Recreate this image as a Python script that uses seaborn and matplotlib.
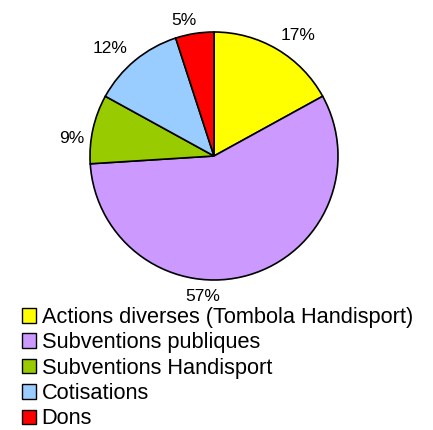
import matplotlib
matplotlib.use("Agg")
import matplotlib.pyplot as plt
import seaborn as sns

# data
categories = ['Actions diverses (Tombola Handisport)',
              'Subventions publiques',
              'Subventions Handisport',
              'Cotisations',
              'Dons']
shares = [17, 57, 9, 12, 5]
colors = ['#FFFF00', '#CC99FF', '#99CC00', '#99CCFF', '#FF0000']

# where excel dropped the percentage labels (pie radius = 1)
label_pos = [(0.68, 0.97), (-0.09, -1.13), (-1.15, 0.14),
             (-0.84, 0.87), (-0.24, 1.09)]

sns.set_theme(style="white")
plt.rcParams['font.family'] = ['Liberation Sans', 'DejaVu Sans']
plt.rcParams['text.color'] = 'black'

fig = plt.figure(figsize=(4.33, 4.30), dpi=100)
# pie centred at (214, 156) px, radius ~124 px
ax = fig.add_axes([(214 - 124) / 433, 1 - (156 + 124) / 430, 248 / 433, 248 / 430])

wedges, texts, autotexts = ax.pie(
    shares, colors=colors, startangle=90, counterclock=False,
    autopct='%1.0f%%', pctdistance=1.17,
    wedgeprops=dict(edgecolor='black', linewidth=1.2),
    textprops=dict(fontsize=12.5, color='black'))
ax.set_xlim(-1, 1)
ax.set_ylim(-1, 1)
ax.set_aspect('equal')

for t, pos in zip(autotexts, label_pos):
    t.set_position(pos)

leg = fig.legend(wedges, categories, loc='upper left',
                 bbox_to_anchor=(22 / 433, 1 - 307 / 430),
                 frameon=False, fontsize=15.7,
                 handlelength=0.65, handleheight=0.65,
                 handletextpad=0.25, labelspacing=0.2,
                 borderpad=0, borderaxespad=0)
for h in leg.legend_handles:
    h.set_linewidth(1)

fig.savefig('out.png', dpi=100)
